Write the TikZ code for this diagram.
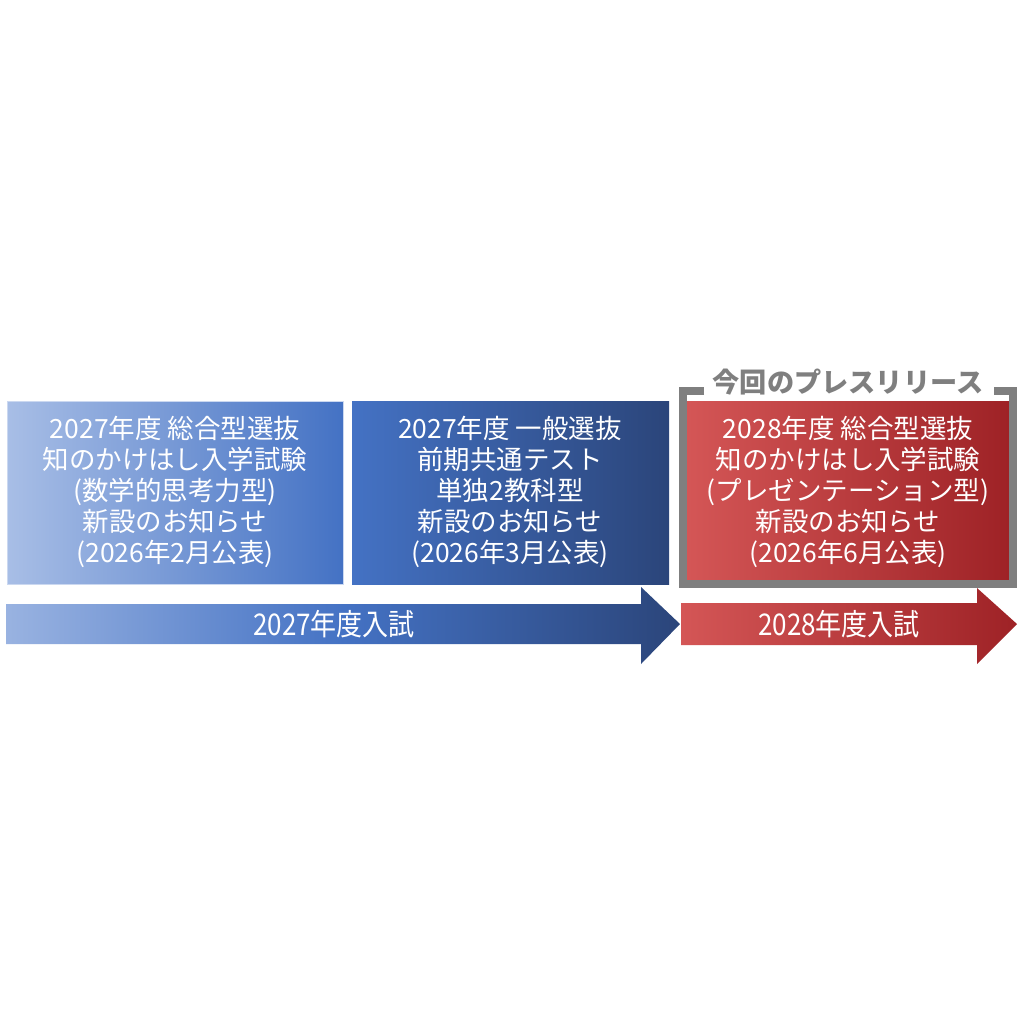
\documentclass[tikz,border=0pt]{standalone}
\usepackage{fontspec}
\setmainfont{Noto Sans CJK JP}
\usetikzlibrary{calc}
\definecolor{bluelight}{RGB}{168,190,230}
\definecolor{bluemid}{RGB}{68,114,196}
\definecolor{bluedark}{RGB}{43,69,122}
\definecolor{redlight}{RGB}{212,86,86}
\definecolor{reddark}{RGB}{158,34,38}
\definecolor{framegray}{RGB}{127,127,127}
\tikzset{
	boxtext/.style={text=white, align=center, inner sep=0pt, font=\fontsize{22.6}{26.4}\selectfont},
	arrowtext/.style={text=white, inner sep=0pt, xscale=0.87, font=\fontsize{25.5}{26}\selectfont},
	presslabel/.style={text=framegray, inner sep=0pt, font=\bfseries\fontsize{23.2}{26}\selectfont}
}

\begin{document}
\begin{tikzpicture}[x=0.03cm, y=-0.03cm]
			%%%%% START %%%%%
			
			\useasboundingbox[fill=white] (0, 0) rectangle (1024, 1024);
			
			% boxes
			\shade[left color=bluelight, right color=bluemid, draw=bluelight!60!white, line width=0.5pt] (7, 401) rectangle (343, 584);
			\shade[left color=bluemid, right color=bluedark] (352, 401) rectangle (669, 584);
			\shade[left color=redlight, right color=reddark] (687, 401) rectangle (1009, 580);
			
			% bracket round this release
			\draw[framegray, line width=0.24cm] (704, 391) -- (683, 391) -- (683, 584) -- (1013, 584) -- (1013, 391) -- (994, 391);
			\node[presslabel] (press) at (848, 382) {今回のプレスリリース};
			
			% arrows
			\shade[left color=bluelight!85!bluemid, right color=bluedark, middle color=bluemid] (6, 604) -- (641, 604) -- (641, 587) -- (680, 624) -- (641, 664) -- (641, 644) -- (6, 644) -- cycle;
			\shade[left color=redlight, right color=reddark] (681, 603) -- (977, 603) -- (977, 588) -- (1017, 624) -- (977, 664) -- (977, 645) -- (681, 645) -- cycle;
			
			% texts
			\node[boxtext] (sogo27) at (175, 492) {2027年度 総合型選抜\\知のかけはし入学試験\\(数学的思考力型)\\新設のお知らせ\\(2026年2月公表)};
			\node[boxtext] (ippan27) at (510, 492) {2027年度 一般選抜\\前期共通テスト\\単独2教科型\\新設のお知らせ\\(2026年3月公表)};
			\node[boxtext] (sogo28) at (848, 492) {2028年度 総合型選抜\\知のかけはし入学試験\\(プレゼンテーション型)\\新設のお知らせ\\(2026年6月公表)};
			
			\node[arrowtext] (nyushi27) at (334, 624) {2027年度入試};
			\node[arrowtext] (nyushi28) at (839, 624) {2028年度入試};
			
			%%%%% END %%%%%
\end{tikzpicture}
\end{document}
